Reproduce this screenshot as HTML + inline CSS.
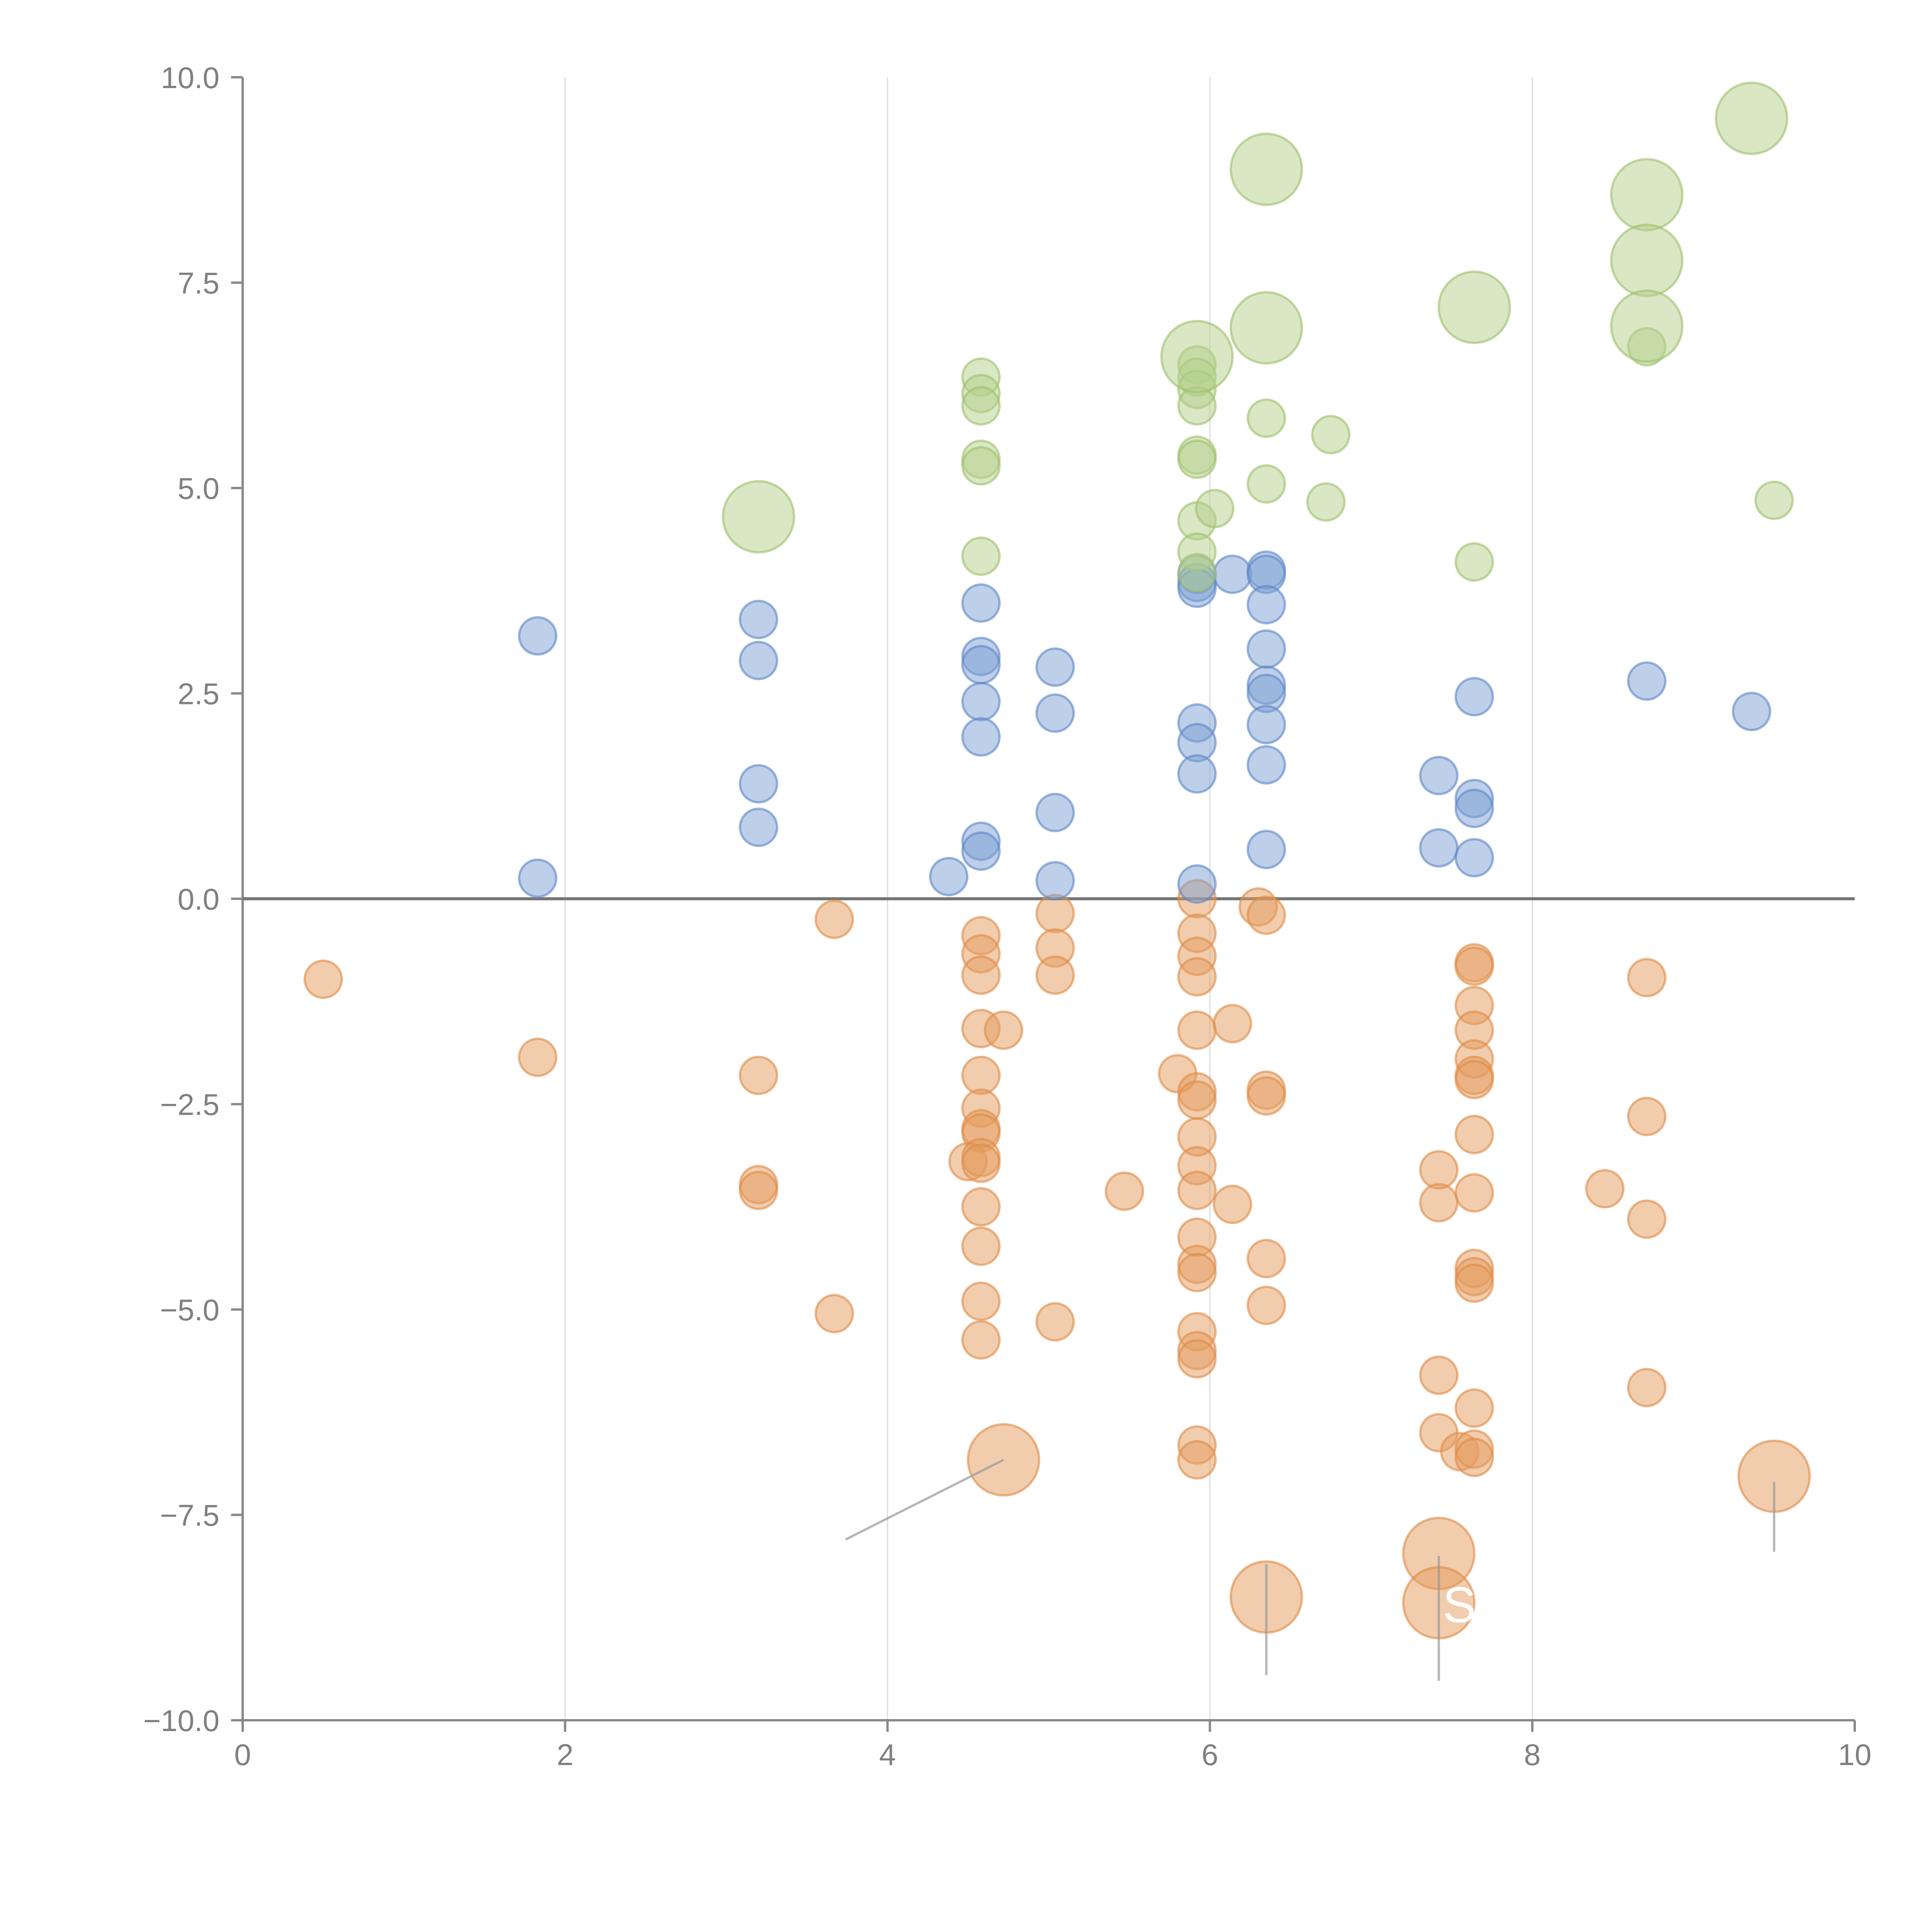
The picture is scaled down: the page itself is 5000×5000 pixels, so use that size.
<!DOCTYPE html>
<html><head><meta charset="utf-8"><style>
html,body{margin:0;padding:0;background:#fff;}
svg{display:block;font-family:"Liberation Sans",sans-serif;}
</style></head>
<body>
<svg id="chart" width="5000" height="5000" viewBox="0 0 5000 5000" xmlns="http://www.w3.org/2000/svg">
<g id="grid"></g>
<g id="axes"></g>
<g id="marks"></g>
<g id="ann"></g>
</svg>
<script>
const xTicks=[0,2,4,6,8,10];
const yTicks=[10,7.5,5,2.5,0,-2.5,-5,-7.5,-10];
const yTickLabels=["10.0","7.5","5.0","2.5","0.0","\u22122.5","\u22125.0","\u22127.5","\u221210.0"];
const blueX=[1.83,1.83,3.2,3.2,3.2,3.2,4.38,4.58,4.58,4.58,4.58,4.58,4.58,4.58,5.04,5.04,5.04,5.04,5.92,5.92,5.92,5.92,5.92,5.92,5.92,6.14,6.35,6.35,6.35,6.35,6.35,6.35,6.35,6.35,6.35,7.42,7.42,7.64,7.64,7.64,7.64,8.71,9.36];
const blueY=[3.2,0.25,3.4,2.9,1.4,0.87,0.27,3.6,2.95,2.85,2.4,1.97,0.7,0.58,2.82,2.26,1.05,0.22,3.95,3.85,3.78,2.14,1.9,1.52,0.18,3.95,4.0,3.95,3.58,3.04,2.6,2.5,2.12,1.63,0.6,1.5,0.62,2.46,1.22,1.1,0.5,2.65,2.28];
const orangeX=[0.5,1.83,3.2,3.2,3.2,3.67,3.67,4.58,4.58,4.58,4.58,4.72,4.58,4.58,4.58,4.58,4.5,4.58,4.58,4.58,4.58,4.58,4.58,5.04,5.04,5.04,5.04,5.47,5.8,5.92,5.92,5.92,5.92,5.92,5.92,5.92,5.92,5.92,5.92,5.92,5.92,5.92,5.92,5.92,5.92,5.92,5.92,6.14,6.14,6.3,6.35,6.35,6.35,6.35,6.35,7.42,7.42,7.42,7.42,7.55,7.64,7.64,7.64,7.64,7.64,7.64,7.64,7.64,7.64,7.64,7.64,7.64,7.64,7.64,7.64,8.45,8.71,8.71,8.71,8.71];
const orangeY=[-0.98,-1.93,-2.15,-3.48,-3.55,-0.25,-5.05,-0.45,-0.67,-0.93,-1.58,-1.6,-2.15,-2.55,-2.8,-2.85,-3.2,-3.15,-3.22,-3.75,-4.23,-4.9,-5.37,-0.18,-0.6,-0.93,-5.15,-3.56,-2.13,0,-0.42,-0.7,-0.95,-1.6,-2.35,-2.45,-2.9,-3.25,-3.55,-4.12,-4.45,-4.55,-5.27,-5.5,-5.6,-6.65,-6.83,-1.52,-3.72,-0.1,-0.2,-2.33,-2.4,-4.38,-4.95,-3.3,-3.7,-5.8,-6.5,-6.73,-0.78,-0.82,-1.3,-1.6,-1.95,-2.15,-2.2,-2.87,-3.58,-4.5,-4.6,-4.68,-6.2,-6.7,-6.8,-3.53,-0.96,-2.65,-3.9,-5.95];
const orangeBigX=[4.72,6.35,7.42,7.42,9.5];
const orangeBigY=[-6.83,-8.5,-7.97,-8.57,-7.03];
const greenX=[4.58,4.58,4.58,4.58,4.58,4.58,5.92,5.92,5.92,5.92,5.92,5.92,5.92,5.92,5.92,6.03,6.35,6.35,6.75,6.72,7.64,8.71,9.5];
const greenY=[6.35,6.15,6.0,5.35,5.27,4.17,6.5,6.35,6.2,6.0,5.4,5.35,4.6,4.22,3.97,4.75,5.85,5.05,5.65,4.83,4.1,6.72,4.85];
const greenBigX=[3.2,6.35,6.35,5.92,7.64,8.71,8.71,8.71,9.36];
const greenBigY=[4.65,8.88,6.95,6.6,7.2,8.57,7.77,6.97,9.5];
const leaderX1=[4.72,6.35,7.42,9.5];
const leaderY1=[-6.83,-8.1,-8.0,-7.1];
const leaderX2=[3.74,6.35,7.42,9.5];
const leaderY2=[-7.8,-9.45,-9.52,-7.95];

const NS="http://www.w3.org/2000/svg";
const X0=628,X1=4800,Y0=4452,Y1=200;
function sx(v){return X0+(v-0)/(10-0)*(X1-X0);}
function sy(v){return Y0-(v+10)/20*(Y0-Y1);}
function mk(tag,attrs,parent){const e=document.createElementNS(NS,tag);for(const k in attrs)e.setAttribute(k,attrs[k]);parent.appendChild(e);return e;}
const grid=document.getElementById('grid'),axes=document.getElementById('axes'),marks=document.getElementById('marks'),ann=document.getElementById('ann');

xTicks.forEach(t=>{
  if(t>0&&t<10){const g=mk('line',{x1:sx(t),x2:sx(t),y1:Y1,y2:Y0,stroke:'#dcdcdc','stroke-width':3},grid);
  
  }
  const tk=mk('line',{x1:sx(t),x2:sx(t),y1:Y0,y2:Y0+30,stroke:'#888','stroke-width':6},axes);
  
  
  const tx=mk('text',{x:sx(t),y:Y0+116,'text-anchor':'middle','font-size':78,fill:'#808080'},axes);
  tx.textContent=t;
  
  
});
yTicks.forEach((t,i)=>{
  const tk=mk('line',{x1:X0-30,x2:X0,y1:sy(t),y2:sy(t),stroke:'#888','stroke-width':6},axes);
  
  
  const tx=mk('text',{x:X0-60,y:sy(t)+28,'text-anchor':'end','font-size':78,fill:'#808080'},axes);
  tx.textContent=yTickLabels[i];
  
  
});
const ya=mk('line',{x1:X0,x2:X0,y1:Y1,y2:Y0,stroke:'#888','stroke-width':6},axes);


const xa=mk('line',{x1:X0,x2:X1,y1:Y0,y2:Y0,stroke:'#888','stroke-width':6},axes);


const zl=mk('line',{x1:X0,x2:X1,y1:sy(0),y2:sy(0),stroke:'#777','stroke-width':8},axes);



function drawSeries(xs,ys,r,fill,stroke,name){
  xs.forEach((v,i)=>{
    const c=mk('circle',{cx:sx(v),cy:sy(ys[i]),r:r,fill:fill,'fill-opacity':0.5,stroke:stroke,'stroke-opacity':0.6,'stroke-width':6},marks);
    
    
  });
}
drawSeries(orangeX,orangeY,48,'#e39b5e','#e08a45','orange-bubble');
drawSeries(orangeBigX,orangeBigY,92,'#e39b5e','#e08a45','orange-large-bubble');
drawSeries(blueX,blueY,48,'#7b9fd3','#5b86c6','blue-bubble');
drawSeries(greenX,greenY,48,'#b3d08a','#9cc06a','green-bubble');
drawSeries(greenBigX,greenBigY,92,'#b3d08a','#9cc06a','green-large-bubble');

leaderX1.forEach((v,i)=>{
  const l=mk('line',{x1:sx(v),y1:sy(leaderY1[i]),x2:sx(leaderX2[i]),y2:sy(leaderY2[i]),stroke:'#999','stroke-opacity':0.7,'stroke-width':6},ann);
  
  
});
const lab=mk('text',{x:sx(7.42)+10,y:sy(-8.57)+50,'font-size':130,fill:'#fff'},ann);
lab.textContent='S';


</script>
</body></html>
